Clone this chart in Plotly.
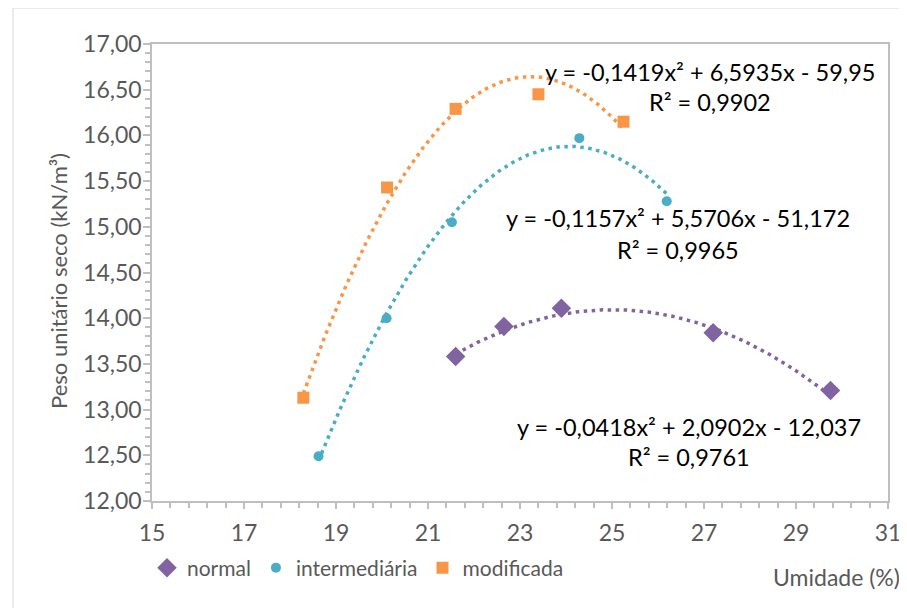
import numpy as np
import plotly.graph_objects as go

# ---- data ----
normal_x = [21.6, 22.65, 23.9, 27.2, 29.75]
normal_y = [13.58, 13.91, 14.11, 13.84, 13.21]

inter_x = [18.62, 20.1, 21.52, 24.29, 26.19]
inter_y = [12.49, 14.00, 15.05, 15.97, 15.28]

modif_x = [18.29, 20.11, 21.6, 23.4, 25.25]
modif_y = [13.13, 15.43, 16.29, 16.45, 16.15]

# trendline coefficients (a, b, c) as printed on the chart
normal_coef = [-0.0418, 2.0902, -12.037]
inter_coef = [-0.1157, 5.5706, -51.172]
modif_coef = [-0.1419, 6.5935, -59.95]

eq_texts = [
    "y = -0,1419x² + 6,5935x - 59,95", "R² = 0,9902",
    "y = -0,1157x² + 5,5706x - 51,172", "R² = 0,9965",
    "y = -0,0418x² + 2,0902x - 12,037", "R² = 0,9761",
]

x_ticks = [15, 17, 19, 21, 23, 25, 27, 29, 31]

PURPLE = "#8064A2"
BLUE = "#4BACC6"
ORANGE = "#F79646"
GRAY_TXT = "#595959"
AX = "#BFBFBF"
FONT = "Lato"

# page body adds an 8px offset; reference pixel coords are compensated
OFF = 8
W, H = 907, 608
L, T = 152 - OFF, 44 - OFF
R = W - (888 - OFF)
B = H - (501 - OFF)
PW, PH = W - L - R, H - T - B


def px(xp):
    return (xp - OFF - L) / PW


def py(yp):
    return (H - B - (yp - OFF)) / PH


fig = go.Figure()


def trend(xs, coef, color):
    xx = np.linspace(min(xs), max(xs), 200)
    yy = np.polyval(coef, xx)
    fig.add_trace(go.Scatter(x=xx, y=yy, mode="lines", showlegend=False,
                             hoverinfo="skip",
                             line=dict(color=color, width=3.5, dash="3.5px,4.5px")))


trend(normal_x, normal_coef, PURPLE)
trend(inter_x, inter_coef, BLUE)
trend(modif_x, modif_coef, ORANGE)

fig.add_trace(go.Scatter(x=normal_x, y=normal_y, mode="markers", name="normal",
                         marker=dict(symbol="diamond", size=15, color=PURPLE)))
fig.add_trace(go.Scatter(x=inter_x, y=inter_y, mode="markers", name="intermediária",
                         marker=dict(symbol="circle", size=10, color=BLUE)))
fig.add_trace(go.Scatter(x=modif_x, y=modif_y, mode="markers", name="modificada",
                         marker=dict(symbol="square", size=12, color=ORANGE)))

# equation annotations (reference pixel centers)
eq_pos = [(710, 72), (710, 102), (678, 218), (678, 250), (689, 427), (689, 457)]
annots = []
for t, (xp, yp) in zip(eq_texts, eq_pos):
    annots.append(dict(text=t, x=px(xp), y=py(yp), xref="paper", yref="paper",
                       xanchor="center", yanchor="middle", showarrow=False,
                       font=dict(family=FONT, size=23.5, color="#000000")))

annots.append(dict(text="Umidade (%)", x=px(902), y=py(577), xref="paper", yref="paper",
                   xanchor="right", yanchor="middle", showarrow=False,
                   font=dict(family=FONT, size=23, color=GRAY_TXT)))
annots.append(dict(text="Peso unitário seco (kN/m³)", x=px(58), y=py(281),
                   xref="paper", yref="paper", xanchor="center", yanchor="middle",
                   textangle=-90, showarrow=False,
                   font=dict(family=FONT, size=22, color=GRAY_TXT)))

fig.update_layout(
    width=W, height=H,
    margin=dict(l=L, r=R, t=T, b=B),
    paper_bgcolor="white", plot_bgcolor="white",
    separators=",.",
    font=dict(family=FONT, size=20, color=GRAY_TXT),
    annotations=annots,
    showlegend=True,
    legend=dict(orientation="h", x=px(147), y=py(568), xanchor="left", yanchor="middle",
                font=dict(family=FONT, size=21, color=GRAY_TXT),
                itemwidth=30, tracegroupgap=0, bgcolor="rgba(0,0,0,0)"),
    shapes=[dict(type="rect", xref="paper", yref="paper",
                 x0=px(13), x1=px(1000), y0=py(700), y1=py(8),
                 line=dict(color="#D9D9D9", width=1), layer="below")],
)

fig.update_xaxes(range=[15, 31], tickvals=x_ticks, ticktext=[str(v) for v in x_ticks],
                 showgrid=False, zeroline=False,
                 showline=True, linecolor=AX, linewidth=1.5, mirror=True,
                 ticks="outside", ticklen=6, tickcolor=AX, tickwidth=1.5,
                 ticklabelstandoff=5,
                 tickfont=dict(family=FONT, size=23, color=GRAY_TXT),
                 minor=dict(dtick=0.4, tick0=15, ticks="outside", ticklen=5,
                            tickcolor=AX, tickwidth=1.5, showgrid=False))
fig.update_yaxes(range=[12, 17], dtick=0.5, tick0=12, tickformat=".2f",
                 showgrid=False, zeroline=False,
                 showline=True, linecolor=AX, linewidth=1.5, mirror=True,
                 ticks="outside", ticklen=7, tickcolor=AX, tickwidth=1.5,
                 ticklabelstandoff=-3,
                 tickfont=dict(family=FONT, size=23, color=GRAY_TXT),
                 minor=dict(dtick=0.1, tick0=12, ticks="outside", ticklen=5,
                            tickcolor=AX, tickwidth=1.5, showgrid=False))

fig.write_html("out.html")
